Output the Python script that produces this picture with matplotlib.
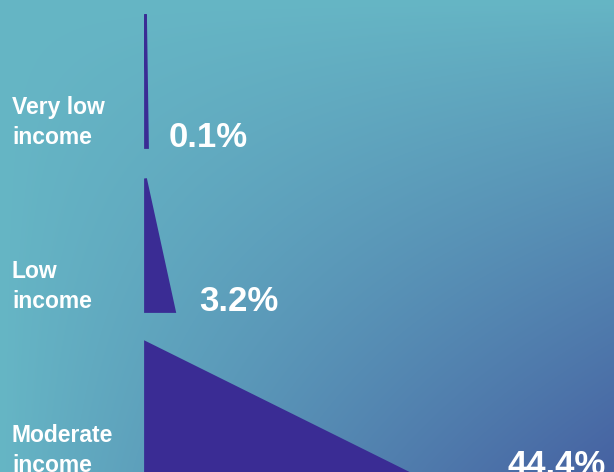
import numpy as np
import matplotlib
matplotlib.use('Agg')
import matplotlib.pyplot as plt
from matplotlib.patches import Polygon
import matplotlib.transforms as mtransforms

# Data
categories = ['Very low\nincome', 'Low\nincome', 'Moderate\nincome']
shares = [0.1, 3.2, 44.4]
share_labels = ['0.1%', '3.2%', '44.4%']

# Style / layout
W, H = 614, 472
TRI_COLOR = '#3a2c94'
BG_TOP = np.array([102, 182, 197]) / 255
BG_CORNER = np.array([70, 98, 162]) / 255
label_gap_px = [22, 26, 94]
tri_height = 0.81        # fraction of one row
power = 0.85


def fwd(x):
    x = np.asarray(x, dtype=float)
    return np.sign(x) * np.abs(x) ** power


def inv(y):
    y = np.asarray(y, dtype=float)
    return np.sign(y) * np.abs(y) ** (1 / power)


fig = plt.figure(figsize=(W / 100, H / 100), dpi=100)

# gradient background
bg = fig.add_axes([0, 0, 1, 1])
u = np.linspace(0, 1, 200)[None, :]
v = np.linspace(0, 1, 160)[:, None]
t = np.clip(u * v, 0, 1) ** 0.9
grad = BG_TOP[None, None, :] * (1 - t[..., None]) + BG_CORNER[None, None, :] * t[..., None]
bg.imshow(grad, aspect='auto', extent=(0, 1, 1, 0), interpolation='bicubic')
bg.set_axis_off()

ax = fig.add_axes([0, 0, 1, 1])
ax.patch.set_alpha(0)
ax.set_xscale('function', functions=(fwd, inv))

# x: zero at pixel 145, 44.4% reaching about pixel 413
px_per_unit = (413 - 145) / fwd(max(shares))
ax.set_xlim(float(inv(-145 / px_per_unit)), float(inv((W - 145) / px_per_unit)))
# y: rows, first top at pixel 14, 164 px per row
row_px = 164
ax.set_ylim((H - 14) / row_px, -14 / row_px)
ax.set_axis_off()

left_tr = mtransforms.blended_transform_factory(ax.transAxes, ax.transData)

for i, (cat, val, lab) in enumerate(zip(categories, shares, share_labels)):
    top, bottom = i, i + tri_height
    tri = Polygon([(0, top), (0, bottom), (val, bottom)], closed=True,
                  facecolor=TRI_COLOR, edgecolor=TRI_COLOR, linewidth=2)
    ax.add_patch(tri)
    ax.annotate(cat, xy=(12 / W, bottom), xycoords=left_tr,
                xytext=(0, 3), textcoords='offset pixels',
                ha='left', va='baseline', color='white', fontsize=16.5,
                fontweight='bold', family='Liberation Sans', linespacing=1.4,
                annotation_clip=False)
    ax.annotate(lab, xy=(val, bottom), xytext=(label_gap_px[i], 0),
                textcoords='offset pixels', ha='left', va='baseline',
                color='white', fontsize=25, fontweight='bold',
                family='Liberation Sans', annotation_clip=False)

fig.savefig('out.png', dpi=100)
